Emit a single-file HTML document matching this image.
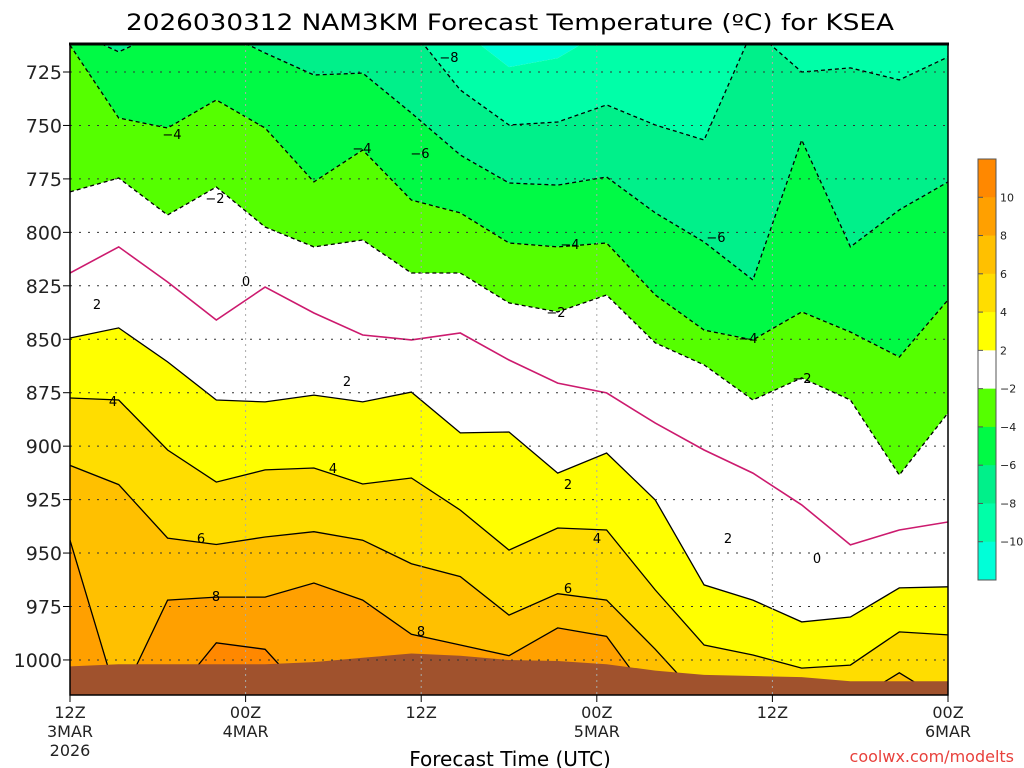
<!DOCTYPE html>
<html><head><meta charset="utf-8"><title>NAM3KM Forecast Temperature KSEA</title>
<style>
html,body{margin:0;padding:0;background:#fff;}
svg{display:block;font-family:"DejaVu Sans","Liberation Sans",sans-serif;}
</style></head>
<body>
<svg id="chart" width="1024" height="768" viewBox="0 0 1024 768" xmlns="http://www.w3.org/2000/svg">
<defs><clipPath id="plotclip"><rect x="70" y="44" width="878" height="651"/></clipPath></defs>
<text x="510" y="30" font-size="22" text-anchor="middle" textLength="768" lengthAdjust="spacingAndGlyphs">2026030312 NAM3KM Forecast Temperature (ºC) for KSEA</text>
<g id="bands" clip-path="url(#plotclip)"></g>
<g id="lines" clip-path="url(#plotclip)"></g>
<g id="ground" clip-path="url(#plotclip)"></g>
<g id="grid" clip-path="url(#plotclip)"></g>
<g id="labels" font-size="13" text-anchor="middle"></g>
<g id="axes"></g>
<g id="colorbar"></g>
<text x="510" y="766" font-size="20" text-anchor="middle">Forecast Time (UTC)</text>
<text x="1014" y="762" font-size="16" fill="#e8413c" text-anchor="end">coolwx.com/modelts</text>
</svg>
<script>
const times = [0,3.33,6.67,10,13.33,16.67,20,23.33,26.67,30,33.33,36.67,40,43.33,46.67,50,53.33,56.67,60];
const surface = [1003,1002,1002,1002,1002,1001,999,997,998,1000,1000.5,1002,1005,1007,1007.5,1008,1010,1010,1010];
const isoM10 = [705,705,705,705,705,705,705,705,705,722.7,718.5,705,705,705,705,705,705,705,705];
const isoM8 = [705,705,705,705,705,705,705,705,733.4,749.8,748.4,740.4,749.8,756.8,705,725,723.1,728.7,718];
const isoM6 = [705,715.6,705,705,716.1,726.4,725.5,744.2,763.8,776.9,777.9,774.1,790.9,804.5,822.3,756.8,806.8,789.5,776.4];
const isoM4 = [712.4,746.5,751.2,738.1,751.2,776.4,761.5,784.9,790.9,805,806.8,805,829.3,845.7,850.3,837.2,846.6,858.3,831.6];
const isoM2 = [781.1,774.6,791.9,778.8,797.5,806.8,803.6,819,819,833,837.2,829.3,851.7,862,878.4,868.1,878.4,913.5,884.5];
const iso0 = [819,806.8,823.2,841,825.6,837.7,848,850.3,847.1,859.7,870.5,875.1,889.2,901.8,912.6,927.5,946.2,939.2,935.5];
const iso2 = [849.4,844.7,860.6,878.4,879.3,876.1,879.3,874.7,893.8,893.4,912.6,903.2,925.2,964.9,972,982.2,979.9,966.3,965.8];
const iso4 = [877.5,878.4,901.8,916.8,911.1,910.2,917.7,914.9,929.9,948.6,938.3,939.2,967.3,993,997.7,1003.8,1002.4,986.9,988.3];
const iso6 = [909,918,943,946,942.5,940,944,955,961,979,969,972,995,1020,1020,1020,1020,1006,1020];
const iso8 = [944,1020,972,970.6,970.6,964,972,988,993,998,985,989,1020,1020,1020,1020,1020,1020,1020];
const iso10 = [1020,1020,1020,992,995,1020,1020,1020,1020,1020,1020,1020,1020,1020,1020,1020,1020,1020,1020];
const pressureTicks = [725,750,775,800,825,850,875,900,925,950,975,1000];
const timeTicks = [0,12,24,36,48,60];
const timeLabels = [["12Z","3MAR","2026"],["00Z","4MAR"],["12Z"],["00Z","5MAR"],["12Z"],["00Z","6MAR"]];
const cbLevels = [10,8,6,4,2,-2,-4,-6,-8,-10];

const NS = "http://www.w3.org/2000/svg";
function xs(t){ return 70 + t*878/60; }
function ys(p){ return 72 + (p-725)*53.45/25; }
function mk(tag, attrs, parent){ const e=document.createElementNS(NS,tag); for(const k in attrs) e.setAttribute(k,attrs[k]); parent.appendChild(e); return e; }

const raw = [times.map(()=>690), isoM10, isoM8, isoM6, isoM4, isoM2, iso2, iso4, iso6, iso8, iso10, times.map(()=>1040)];
const eff = [];
raw.forEach((arr,k)=>{ eff.push(arr.map((v,i)=> k===0 ? v : Math.max(v, eff[k-1][i]))); });
const bandColors = ["#00FFD8","#00FFA8","#00F08A","#00FA45","#55FF00","#FFFFFF","#FFFF00","#FFDD00","#FFC000","#FFA000","#FF8800"];
const bandNames = ["band-below-m10","band-m10-m8","band-m8-m6","band-m6-m4","band-m4-m2","band-m2-2","band-2-4","band-4-6","band-6-8","band-8-10","band-10-12"];
const bandsG = document.getElementById("bands");
for(let k=0;k<11;k++){
  const up = eff[k], lo = eff[k+1];
  let d = "M" + times.map((t,i)=>xs(t).toFixed(1)+","+ys(up[i]).toFixed(1)).join(" L");
  for(let i=times.length-1;i>=0;i--) d += " L"+xs(times[i]).toFixed(1)+","+ys(lo[i]).toFixed(1);
  const p = mk("path",{d:d+"Z",fill:bandColors[k]},bandsG);
  
  
}
const linesG = document.getElementById("lines");
const lineDefs = [[isoM8,"contour-minus-8",true,"#000"],[isoM6,"contour-minus-6",true,"#000"],[isoM4,"contour-minus-4",true,"#000"],[isoM2,"contour-minus-2",true,"#000"],[iso0,"contour-0",false,"#cc1a6e"],[iso2,"contour-2",false,"#000"],[iso4,"contour-4",false,"#000"],[iso6,"contour-6",false,"#000"],[iso8,"contour-8",false,"#000"],[iso10,"contour-10",false,"#000"]];
lineDefs.forEach(ld=>{
  const d = "M" + times.map((t,i)=>xs(t).toFixed(1)+","+ys(ld[0][i]).toFixed(1)).join(" L");
  const p = mk("path",{d:d,fill:"none",stroke:ld[3],"stroke-width":ld[3]==="#000"?1.3:1.6},linesG);
  if(ld[2]) p.setAttribute("stroke-dasharray","4,3");
  
  
});
const groundG = document.getElementById("ground");
let gd = "M" + times.map((t,i)=>xs(t).toFixed(1)+","+ys(surface[i]).toFixed(1)).join(" L") + " L948,700 L70,700Z";
const gp = mk("path",{d:gd,fill:"#A0522D"},groundG);



const gridG = document.getElementById("grid");
pressureTicks.forEach(p=>{
  const l = mk("line",{x1:70,x2:948,y1:ys(p),y2:ys(p),stroke:"#333","stroke-width":1,"stroke-dasharray":"2,7"},gridG);
  
  
});
timeTicks.forEach(t=>{
  if(t===0||t===60) return;
  const l = mk("line",{x1:xs(t),x2:xs(t),y1:44,y2:695,stroke:"#aaa","stroke-width":1,"stroke-dasharray":"2,4"},gridG);
  
  
});

const axesG = document.getElementById("axes");
const frame = mk("rect",{x:70,y:44,width:878,height:651,fill:"none",stroke:"#000","stroke-width":1.5},axesG);


const topL = mk("line",{x1:69,x2:949,y1:44,y2:44,stroke:"#000","stroke-width":3},axesG);


pressureTicks.forEach(p=>{
  const t = mk("text",{x:62,y:ys(p)+7,"font-size":19,"text-anchor":"end",fill:"#222"},axesG);
  t.textContent = p;
  
  
  const tk = mk("line",{x1:63,x2:70,y1:ys(p),y2:ys(p),stroke:"#000"},axesG);
  
  
});
timeTicks.forEach((t,i)=>{
  const tk = mk("line",{x1:xs(t),x2:xs(t),y1:695,y2:702,stroke:"#000"},axesG);
  
  
  const lines = timeLabels[i];
  const tx = mk("text",{x:xs(t),y:718,"font-size":16,"text-anchor":"middle",fill:"#222"},axesG);
  
  
  lines.forEach((s,j)=>{ const ts=mk("tspan",{x:xs(t),dy:j===0?0:19},tx); ts.textContent=s; });
});

const cbG = document.getElementById("colorbar");
const cbTop=159, cbH=421/11;
for(let k=0;k<11;k++){
  const r = mk("rect",{x:978,y:cbTop+k*cbH,width:18,height:cbH+0.5,fill:bandColors[10-k]},cbG);
  
  
}
const cbf = mk("rect",{x:978,y:cbTop,width:18,height:421,fill:"none",stroke:"#555","stroke-width":1},cbG);


cbLevels.forEach((v,k)=>{
  const yy = cbTop+(k+1)*cbH;
  const t = mk("text",{x:1000,y:yy+4,"font-size":11,fill:"#222"},cbG);
  t.textContent = v<0 ? "\u2212"+(-v) : String(v);
  
  
  const tk = mk("line",{x1:978,x2:983,y1:yy,y2:yy,stroke:"#555"},cbG);
  
  
});

const clabels = [["\u22128",449,62],["\u22124",172,139],["\u22124",362,153],["\u22126",420,158],["\u22122",215,203],["0",246,286],["2",97,309],["\u22124",570,249],["\u22126",716,242],["\u22122",556,317],["\u22124",748,343],["\u22122",802,383],["2",347,386],["4",113,406],["4",333,473],["2",568,489],["6",201,543],["4",597,543],["2",728,543],["0",817,563],["6",568,593],["8",216,601],["8",421,636]];
const labG = document.getElementById("labels");
clabels.forEach(c=>{
  const t = mk("text",{x:c[1],y:c[2]},labG);
  t.textContent = c[0];
  
  
});
</script>
</body></html>
